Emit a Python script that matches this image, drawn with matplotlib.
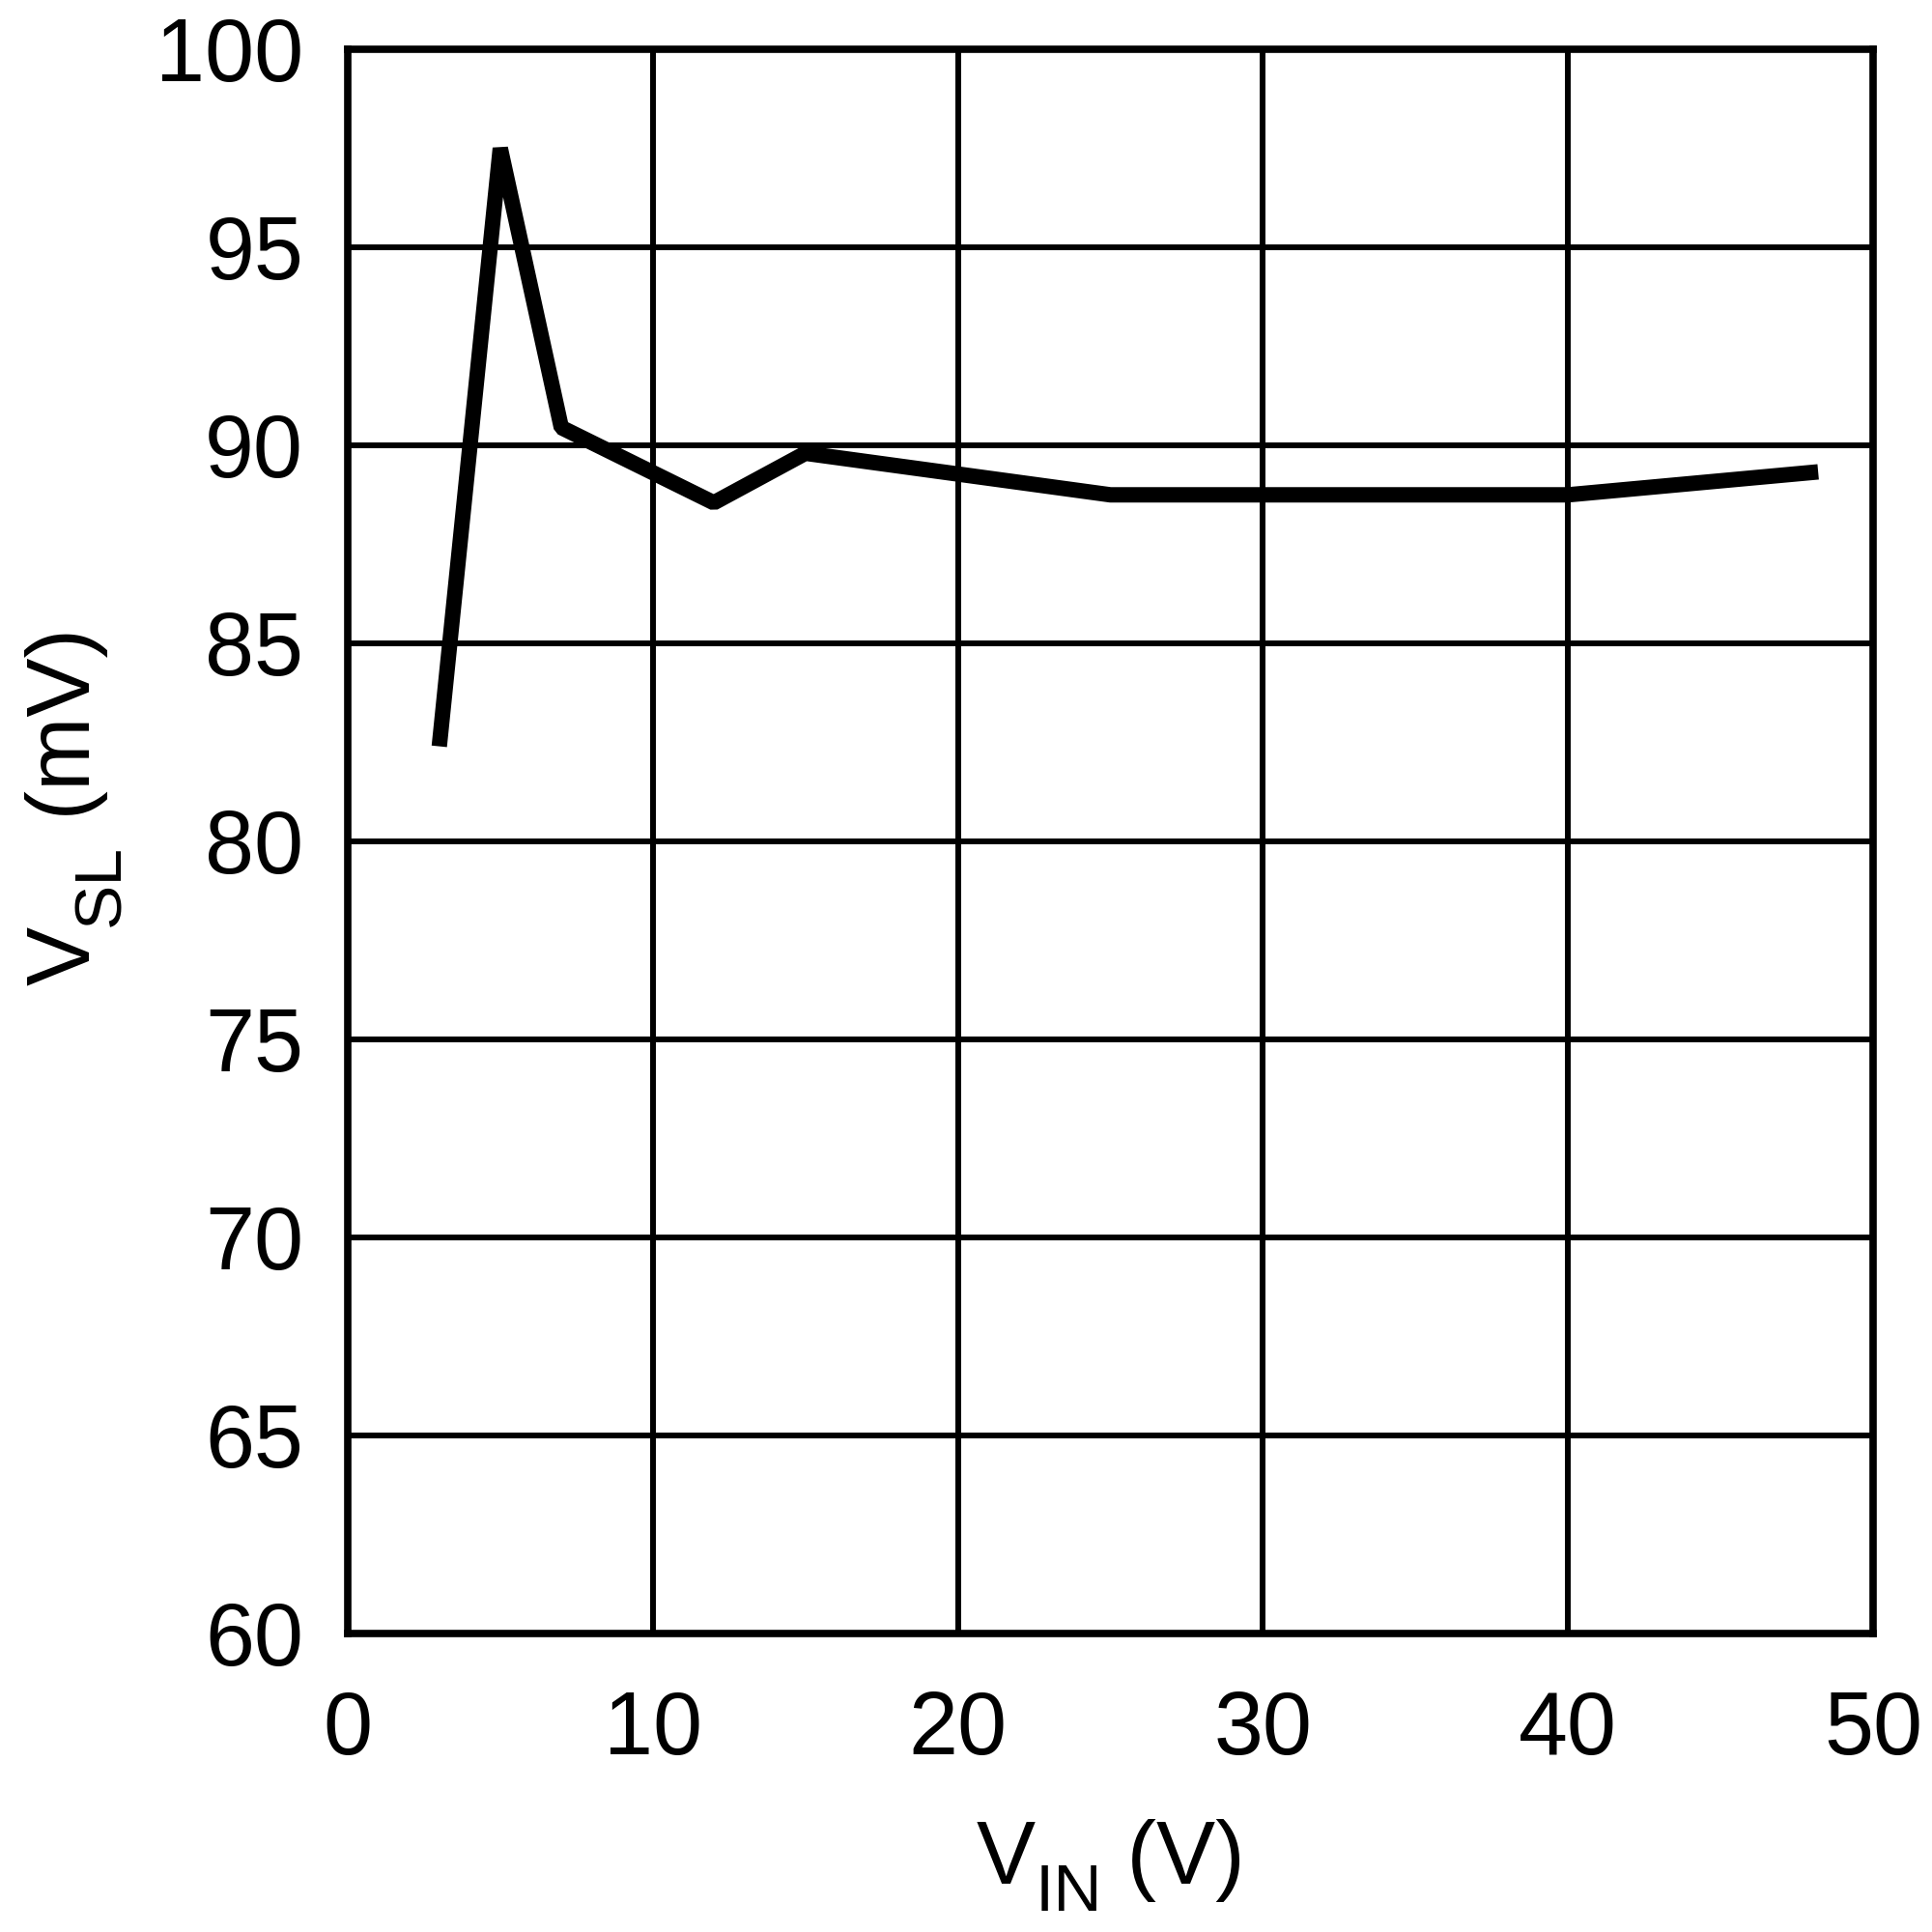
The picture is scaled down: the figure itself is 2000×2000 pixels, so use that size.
import matplotlib
matplotlib.use("Agg")
import matplotlib.pyplot as plt
from matplotlib.transforms import IdentityTransform

vin = [3, 5, 7, 12, 15, 25, 40, 48.2]
vsl = [82.4, 97.5, 90.45, 88.55, 89.8, 88.75, 88.75, 89.33]
xticks = [0, 10, 20, 30, 40, 50]
yticks = [60, 65, 70, 75, 80, 85, 90, 95, 100]
xlabel_parts = [("V", False), ("IN", True), (" (V)", False)]
ylabel_parts = [("V", False), ("SL", True), (" (mV)", False)]

plt.rcParams['font.family'] = ['Liberation Sans', 'DejaVu Sans']

W = H = 2000
fig = plt.figure(figsize=(20, 20), dpi=100)
ax = fig.add_axes([0.18, 0.1545, 0.7895, 0.82])

ax.plot(vin, vsl, color='black', linewidth=11.5, solid_joinstyle='bevel',
        solid_capstyle='butt', zorder=3)

ax.set_xlim(0, 50)
ax.set_ylim(60, 100)
ax.set_xticks(xticks)
ax.set_yticks(yticks)
ax.grid(True, color='black', linewidth=4.3)
for s in ax.spines.values():
    s.set_linewidth(5.5)
    s.set_color('black')
ax.tick_params(length=0, labelsize=66)
ax.tick_params(axis='y', pad=33)
ax.tick_params(axis='x', pad=42)

MAIN, SUB = 66, 50
renderer = fig.canvas.get_renderer()
ident = IdentityTransform()

# x label: centered under the axes, baseline 50 px above bottom
texts = []
for s, sub in xlabel_parts:
    t = fig.text(0, 0, s, fontsize=SUB if sub else MAIN, ha='left', va='baseline',
                 transform=ident)
    texts.append((t, sub))
widths = [t.get_window_extent(renderer).width for t, _ in texts]
bbox = ax.get_position()
cx = (bbox.x0 + bbox.x1) / 2 * W
x = cx - sum(widths) / 2
base = 50
for (t, sub), w in zip(texts, widths):
    t.set_position((x, base - (28 if sub else 0)))
    x += w

# y label: rotated, reading upward
texts = []
for s, sub in ylabel_parts:
    t = fig.text(0, 0, s, fontsize=SUB if sub else MAIN, ha='left', va='baseline',
                 rotation=90, rotation_mode='anchor', transform=ident)
    texts.append((t, sub))
heights = [t.get_window_extent(renderer).height for t, _ in texts]
bx = 93
y = 980
for (t, sub), h in zip(texts, heights):
    t.set_position((bx + (30 if sub else 0), y))
    y += h

fig.savefig('out.png', dpi=100, facecolor='white')
